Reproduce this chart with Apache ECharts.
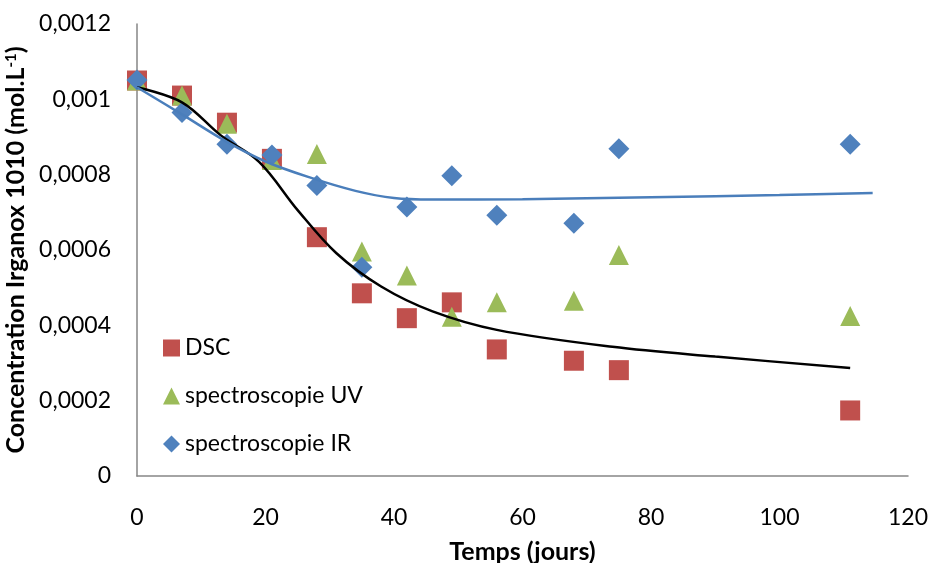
<!DOCTYPE html>
<html>
<head>
<meta charset="utf-8">
<script src="https://cdn.jsdelivr.net/npm/echarts@6/dist/echarts.min.js"></script>
<style>
html,body{margin:0;padding:0;background:#fff;}
#chart{width:928px;height:563px;}
</style>
</head>
<body>
<div id="chart"></div>
<script>
// Days of measurement
const days = [0, 7, 14, 21, 28, 35, 42, 49, 56, 68, 75, 111];
// Concentration values (mol.L-1)
const dsc = [0.00105, 0.00101, 0.000938, 0.000842, 0.000634, 0.000485, 0.000419, 0.000461, 0.000336, 0.000306, 0.000281, 0.000174];
const uv  = [0.00105, 0.00101, 0.000935, 0.000839, 0.000855, 0.000596, 0.000532, 0.000423, 0.000461, 0.000465, 0.000587, 0.000425];
const ir  = [0.001051, 0.000965, 0.000881, 0.000852, 0.000771, 0.000554, 0.000714, 0.000797, 0.000692, 0.000671, 0.000869, 0.000881];
// Trend curves: [day, value]
const blackCurve = [[0,0.001032],[7,0.000992],[13,0.000905],[19,0.000834],[25,0.000706],[31,0.000592],[38,0.000503],[46,0.000437],[56,0.000388],[74,0.000343],[90,0.000317],[111,0.000287]];
const blueCurve = [[0,0.001032],[7,0.00096],[14,0.000887],[20,0.000835],[27,0.000792],[34,0.000757],[40,0.000738],[46,0.000734],[60,0.000735],[80,0.00074],[100,0.000746],[114.5,0.000751]];
const seriesNames = ['DSC', 'spectroscopie UV', 'spectroscopie IR'];
const xTitle = 'Temps (jours)';

const FONT = 'Lato';
const pairs = (xs, ys) => xs.map((x, i) => [x, ys[i]]);

const chart = echarts.init(document.getElementById('chart'));
chart.setOption({
  animation: false,
  backgroundColor: '#ffffff',
  textStyle: { fontFamily: FONT },
  grid: { left: 137, right: 20, top: 24, bottom: 87, containLabel: false, outerBoundsMode: 'none' },
  legend: {
    data: [
      { name: seriesNames[0], icon: 'rect' },
      { name: seriesNames[1], icon: 'triangle' },
      { name: seriesNames[2], icon: 'diamond' }
    ],
    orient: 'vertical',
    left: 158,
    top: 331,
    itemWidth: 17,
    itemHeight: 17,
    itemGap: 24,
    textStyle: { fontFamily: FONT, fontSize: 23, color: '#000', lineHeight: 24 }
  },
  xAxis: {
    type: 'value',
    min: 0, max: 120, interval: 20,
    name: xTitle,
    nameLocation: 'middle',
    nameGap: 63,
    nameTextStyle: { fontFamily: FONT, fontSize: 25, fontWeight: 'bold', color: '#000' },
    axisLine: { show: true, lineStyle: { color: '#868686', width: 1.5 } },
    axisTick: { show: false },
    splitLine: { show: false },
    axisLabel: { fontFamily: FONT, fontSize: 23, color: '#000', margin: 30 }
  },
  yAxis: {
    type: 'value',
    min: 0, max: 0.0012, interval: 0.0002,
    name: '{a|Concentration Irganox 1010 (mol.L}{s|-1}{a|)}',
    nameLocation: 'middle',
    nameRotate: 90,
    nameGap: 100,
    nameTextStyle: {
      rich: {
        a: { fontFamily: FONT, fontSize: 25, fontWeight: 'bold', color: '#000' },
        s: { fontFamily: FONT, fontSize: 15, fontWeight: 'bold', color: '#000', verticalAlign: 'top', padding: [0,0,10,0] }
      }
    },
    axisLine: { show: true, lineStyle: { color: '#868686', width: 1.5 } },
    axisTick: { show: false },
    splitLine: { show: false },
    axisLabel: {
      fontFamily: FONT, fontSize: 23, color: '#000', margin: 26,
      formatter: v => v === 0 ? '0' : String(+v.toFixed(5)).replace('.', ',')
    }
  },
  series: [
    {
      name: seriesNames[0], type: 'scatter', symbol: 'rect', symbolSize: 20,
      itemStyle: { color: '#C0504D', opacity: 1 }, data: pairs(days, dsc), z: 2
    },
    {
      name: seriesNames[1], type: 'scatter', symbol: 'triangle', symbolSize: 20,
      itemStyle: { color: '#9BBB59', opacity: 1 }, data: pairs(days, uv), z: 3
    },
    {
      name: seriesNames[2], type: 'scatter', symbol: 'diamond', symbolSize: 21,
      itemStyle: { color: '#4F81BD', opacity: 1 }, data: pairs(days, ir), z: 4
    },
    {
      name: 'trend1', type: 'line', data: blackCurve, smooth: 0.35,
      showSymbol: false, symbol: 'none', lineStyle: { color: '#000', width: 2.5 }, z: 5, silent: true
    },
    {
      name: 'trend2', type: 'line', data: blueCurve, smooth: 0.35,
      showSymbol: false, symbol: 'none', lineStyle: { color: '#4A7EBB', width: 2.5 }, z: 5, silent: true
    }
  ]
});
</script>
</body>
</html>
